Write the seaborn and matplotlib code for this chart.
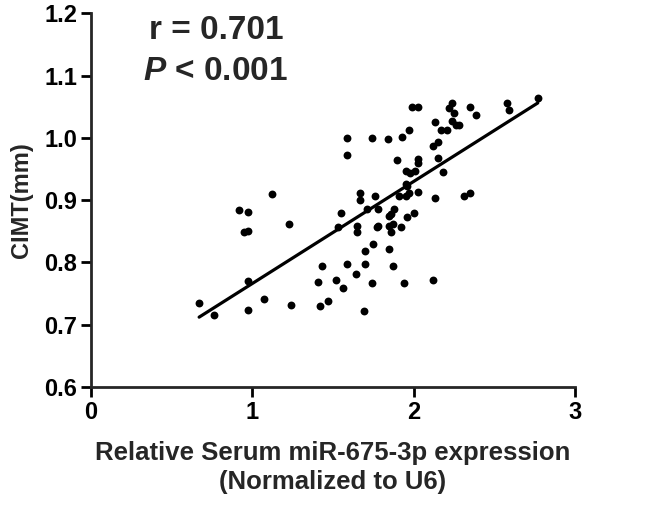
import numpy as np
import pandas as pd
import matplotlib
matplotlib.use("Agg")
import matplotlib.pyplot as plt
import seaborn as sns

# relative serum miR-675-3p expression (x) and CIMT in mm (y)
mir675 = [
    0.67, 0.76, 0.97, 0.97, 1.07, 1.24, 0.92, 0.97, 0.95, 0.97, 1.12, 1.23,
    1.99, 2.03, 2.13, 1.97, 1.59, 1.74, 1.84, 1.93, 1.59, 2.12, 1.90, 2.03,
    2.03, 1.95, 1.98, 2.01, 1.95, 1.96, 1.67, 1.67, 1.76, 1.91, 1.95, 1.97,
    2.03, 2.13, 1.55, 1.71, 1.78, 1.88, 1.86, 1.85, 1.96, 2.00, 1.53, 1.65,
    1.65, 1.77, 1.78, 1.85, 1.87, 1.86, 1.92, 1.75, 1.70, 1.85, 1.43, 1.59,
    1.70, 1.87, 1.64, 1.41, 1.52, 1.56, 1.74, 1.94, 2.12, 1.42, 1.47, 1.69,
    2.24, 2.22, 2.25, 2.35, 2.39, 2.58, 2.59, 2.77, 2.24, 2.26, 2.28, 2.17,
    2.21, 2.15, 2.15, 2.18, 2.31, 2.35,
]
cimt = [
    0.735, 0.716, 0.723, 0.770, 0.741, 0.732, 0.884, 0.880, 0.849, 0.851, 0.910, 0.861,
    1.049, 1.050, 1.025, 1.013, 1.000, 1.000, 0.998, 1.001, 0.972, 0.987, 0.964, 0.966,
    0.960, 0.946, 0.944, 0.946, 0.925, 0.922, 0.912, 0.900, 0.907, 0.907, 0.906, 0.912,
    0.913, 0.904, 0.879, 0.886, 0.886, 0.886, 0.877, 0.875, 0.873, 0.879, 0.857, 0.859,
    0.848, 0.857, 0.859, 0.859, 0.861, 0.848, 0.857, 0.830, 0.818, 0.822, 0.794, 0.797,
    0.797, 0.794, 0.781, 0.768, 0.772, 0.759, 0.767, 0.767, 0.772, 0.730, 0.738, 0.721,
    1.056, 1.048, 1.039, 1.049, 1.037, 1.056, 1.045, 1.064, 1.027, 1.021, 1.021, 1.013,
    1.013, 0.994, 0.968, 0.945, 0.906, 0.912,
]
yticks = [0.6, 0.7, 0.8, 0.9, 1.0, 1.1, 1.2]
xticks = [0, 1, 2, 3]

df = pd.DataFrame({"mir": mir675, "cimt": cimt})

sns.set_style("ticks")
plt.rcParams["font.family"] = ["Liberation Sans", "DejaVu Sans"]
plt.rcParams["font.weight"] = "bold"
plt.rcParams["mathtext.fontset"] = "custom"
plt.rcParams["mathtext.it"] = "Liberation Sans:italic:bold"
plt.rcParams["mathtext.rm"] = "Liberation Sans:bold"

fig = plt.figure(figsize=(6.6, 5.09), dpi=100)
ax = fig.add_axes([0.138, 0.240, 0.733, 0.734])

sns.regplot(data=df, x="mir", y="cimt", ci=None, ax=ax,
            scatter_kws={"s": 32, "color": "black", "linewidths": 0, "alpha": 1},
            line_kws={"color": "black", "linewidth": 2.3})

ax.set_xlim(0, 3)
ax.set_ylim(0.6, 1.2)
ax.set_xticks(xticks)
ax.set_yticks(yticks)
ax.set_yticklabels([f"{v:.1f}" for v in yticks])
sns.despine(ax=ax)
for s in ["left", "bottom"]:
    ax.spines[s].set_linewidth(2.0)
ax.tick_params(width=2.0, length=7, labelsize=17, pad=3, colors="black")
for lab in ax.get_xticklabels() + ax.get_yticklabels():
    lab.set_fontweight("bold")

ax.set_xlabel("Relative Serum miR-675-3p expression\n(Normalized to U6)",
              fontsize=18.5, fontweight="bold", linespacing=1.25)
ax.xaxis.set_label_coords(0.5, -0.145)
ax.set_ylabel("CIMT(mm)", fontsize=17, fontweight="bold")
ax.yaxis.set_label_coords(-0.143, 0.5)
ax.yaxis.label.set_va("center")

ax.text(0.258, 0.953, "r = 0.701", transform=ax.transAxes, ha="center", va="center",
        fontsize=24, fontweight="bold")
ax.text(0.258, 0.845, r"$\mathit{P}$ < 0.001", transform=ax.transAxes, ha="center",
        va="center", fontsize=24, fontweight="bold")

fig.savefig("out.png", dpi=100)
